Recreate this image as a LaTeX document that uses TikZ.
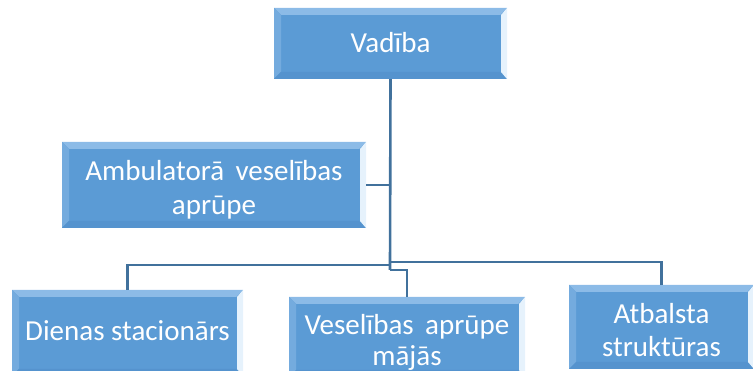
\documentclass[tikz,border=0pt]{standalone}
\usepackage{fontspec}
\setmainfont{Carlito}
\definecolor{boxblue}{HTML}{5B9BD5}
\definecolor{bevtop}{HTML}{8CBBE7}
\definecolor{bevleft}{HTML}{74ABDE}
\definecolor{bevbot}{HTML}{5593CE}
\definecolor{bevright}{HTML}{E6F2FC}
\definecolor{linecol}{HTML}{41719C}
\tikzset{
  box/.style={rectangle, fill=boxblue, inner sep=0pt,
    path picture={
      \def\pb{path picture bounding box}
      \fill[bevtop] (\pb.north west) -- (\pb.north east) -- ([shift={(-7pt,-7pt)}]\pb.north east) -- ([shift={(7pt,-7pt)}]\pb.north west) -- cycle;
      \fill[bevleft] (\pb.north west) -- (\pb.south west) -- ([shift={(7pt,7pt)}]\pb.south west) -- ([shift={(7pt,-7pt)}]\pb.north west) -- cycle;
      \fill[bevbot] (\pb.south west) -- (\pb.south east) -- ([shift={(-7pt,7pt)}]\pb.south east) -- ([shift={(7pt,7pt)}]\pb.south west) -- cycle;
      \fill[bevright] (\pb.north east) -- (\pb.south east) -- ([shift={(-6pt,7pt)}]\pb.south east) -- ([shift={(-6pt,-7pt)}]\pb.north east) -- cycle;
    }},
  boxtext/.style={text=white, align=center, inner sep=0pt, font=\fontsize{29}{34}\selectfont},
  conn/.style={draw=linecol, line width=2.6pt}
}
\begin{document}
\begin{tikzpicture}[x=1pt,y=-1pt]
\useasboundingbox (0,0) rectangle (753,371);
\node[box, minimum width=233pt, minimum height=71pt] (vad) at (390.5,43.5) {};
\node[box, minimum width=304pt, minimum height=86pt] (amb) at (214,185) {};
\node[box, minimum width=231pt, minimum height=86pt] (dien) at (127.5,333) {};
\node[box, minimum width=236pt, minimum height=80pt] (ves) at (407,337) {};
\node[box, minimum width=185pt, minimum height=84pt] (atb) at (661.5,327) {};
\node[boxtext] (vadt) at ([yshift=1pt]vad.center) {Vadība};
\node[boxtext] (ambt) at ([yshift=-5pt]amb.center) {Ambulatorā\, veselības\\aprūpe};
\node[boxtext] (dient) at ([yshift=2pt]dien.center) {Dienas stacionārs};
\node[boxtext, font=\fontsize{29}{31}\selectfont] (vest) at ([yshift=-5pt]ves.center) {Veselības\, aprūpe\\mājās};
\node[boxtext, font=\fontsize{29}{33}\selectfont] (atbt) at ([yshift=-3pt]atb.center) {Atbalsta\\struktūras};
\coordinate (jl) at (390,265);
\coordinate (jr) at (390,262);
\coordinate (jm) at (390,270);
\draw[conn] (vad.south) -- (jm);
\draw[conn] (amb.east) -- (amb.east -| vad.south);
\draw[conn] (jl) -| (dien.north);
\draw[conn] (jr) -| (atb.north);
\draw[conn] (jm) -| (ves.north);
\end{tikzpicture}
\end{document}
